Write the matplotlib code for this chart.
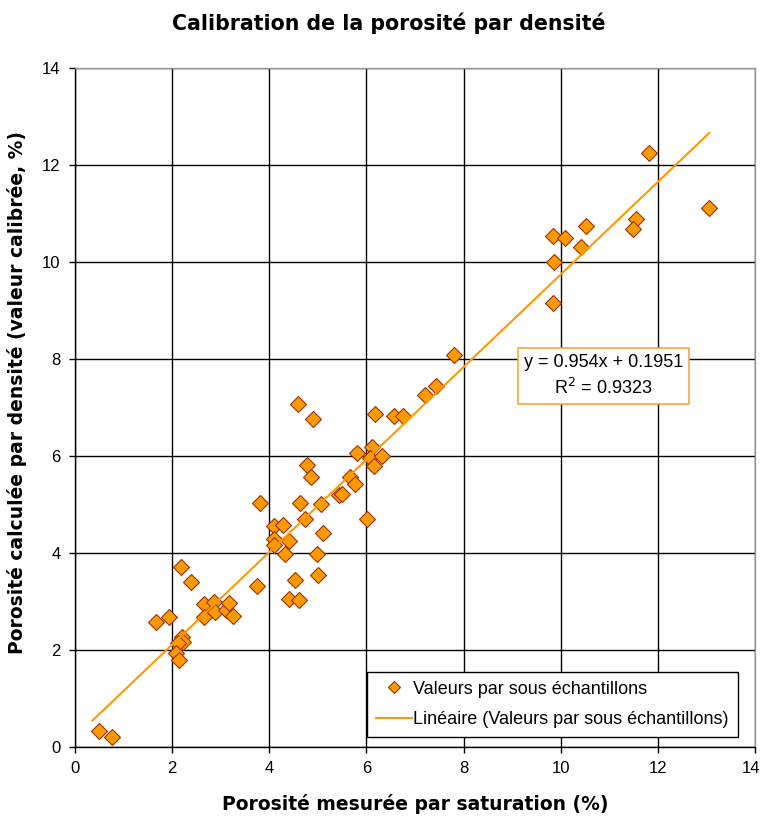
import matplotlib
matplotlib.use('Agg')
import matplotlib.pyplot as plt
import matplotlib.transforms as mtransforms
import numpy as np

plt.rcParams['font.family'] = ['Liberation Sans', 'DejaVu Sans']

# porosity measured by saturation (%) vs porosity computed from density (%)
sat = [0.50, 0.77, 1.66, 1.94, 2.18, 2.38, 2.20, 2.23, 2.13, 2.08, 2.15,
       2.65, 2.66, 2.86, 2.89, 3.10, 3.18, 3.26, 3.74, 3.80, 4.09, 4.29,
       4.09, 4.09, 4.40, 4.32, 4.73, 4.64, 5.07, 5.10, 4.99, 4.52, 5.00,
       4.40, 4.62, 4.59, 4.90, 6.17, 6.56, 6.75, 7.20, 7.43, 5.81, 6.11,
       6.08, 6.32, 6.15, 4.78, 4.86, 5.67, 5.77, 5.43, 5.50, 6.01, 7.81,
       9.84, 10.08, 10.53, 10.42, 9.87, 9.84, 11.56, 11.49, 11.82, 13.06]
dens = [0.32, 0.19, 2.56, 2.68, 3.71, 3.40, 2.27, 2.16, 2.13, 1.93, 1.79,
        2.94, 2.67, 2.98, 2.77, 2.82, 2.97, 2.69, 3.31, 5.02, 4.54, 4.57,
        4.29, 4.15, 4.23, 3.97, 4.69, 5.02, 5.00, 4.40, 3.97, 3.44, 3.54,
        3.05, 3.02, 7.07, 6.76, 6.86, 6.82, 6.81, 7.25, 7.43, 6.06, 6.17,
        5.95, 5.99, 5.79, 5.81, 5.57, 5.57, 5.42, 5.19, 5.21, 4.69, 8.08,
        10.53, 10.48, 10.74, 10.30, 10.00, 9.14, 10.87, 10.67, 12.23, 11.10]

# excel trendline
slope = 0.954
intercept = 0.1951
r2 = 0.9323
trend_x = [0.36, 13.06]

orange = '#FF9900'
bold_font = ['DejaVu Sans']

fig = plt.figure(figsize=(7.62, 8.17), dpi=100)
ax = fig.add_axes([0.0984, 0.0861, 0.8924, 0.8311])

ax.grid(True, color='black', linewidth=1.0)
ax.set_axisbelow(True)

tx = np.array(trend_x)
ax.plot(sat, dens, linestyle='none', marker='D', markersize=8,
        markerfacecolor=orange, markeredgecolor='#993300', markeredgewidth=0.8,
        label='Valeurs par sous échantillons', zorder=3)
ax.plot(tx, slope * tx + intercept, color=orange, linewidth=1.5,
        label='Linéaire (Valeurs par sous échantillons)', zorder=4)

ax.set_xlim(0, 14)
ax.set_ylim(0, 14)
ax.set_xticks(range(0, 15, 2))
ax.set_yticks(range(0, 15, 2))
ax.tick_params(direction='out', length=4.3, width=1, labelsize=12,
               colors='black', pad=6)

# keep the last x tick label inside the figure
last = ax.get_xticklabels()[-1]
last.set_transform(last.get_transform() +
                   mtransforms.ScaledTranslation(-4 / 100, 0, fig.dpi_scale_trans))

for s in ['left', 'bottom']:
    ax.spines[s].set_color('black')
    ax.spines[s].set_linewidth(1.0)
for s in ['top', 'right']:
    ax.spines[s].set_color('#999999')
    ax.spines[s].set_linewidth(1.0)

fig.text(389 / 762, 1 - 29.5 / 817, 'Calibration de la porosité par densité',
         fontsize=14.8, fontweight='bold', family=bold_font,
         ha='center', va='baseline')
ax.set_xlabel('Porosité mesurée par saturation (%)', fontsize=13.5,
              fontweight='bold', family=bold_font, labelpad=13)
ax.set_ylabel('Porosité calculée par densité (valeur calibrée, %)',
              fontsize=13.5, fontweight='bold', family=bold_font, labelpad=8)
ax.yaxis.set_label_coords(-0.07, 0.522)

ax.text(10.88, 7.64, 'y = 0.954x + 0.1951\nR$^2$ = 0.9323', fontsize=13,
        ha='center', va='center', linespacing=1.4, zorder=5,
        bbox=dict(boxstyle='square,pad=0.35', facecolor='white',
                  edgecolor='#F8A53C', linewidth=1.2))

leg = ax.legend(loc='lower right', bbox_to_anchor=(0.975, 0.014),
                borderaxespad=0, fontsize=13, fancybox=False, framealpha=1,
                edgecolor='black', handlelength=2.0, handletextpad=0.1,
                labelspacing=0.75, markerscale=0.75, borderpad=0.5)
leg.get_frame().set_linewidth(1.0)

fig.savefig('out.png', dpi=100)
